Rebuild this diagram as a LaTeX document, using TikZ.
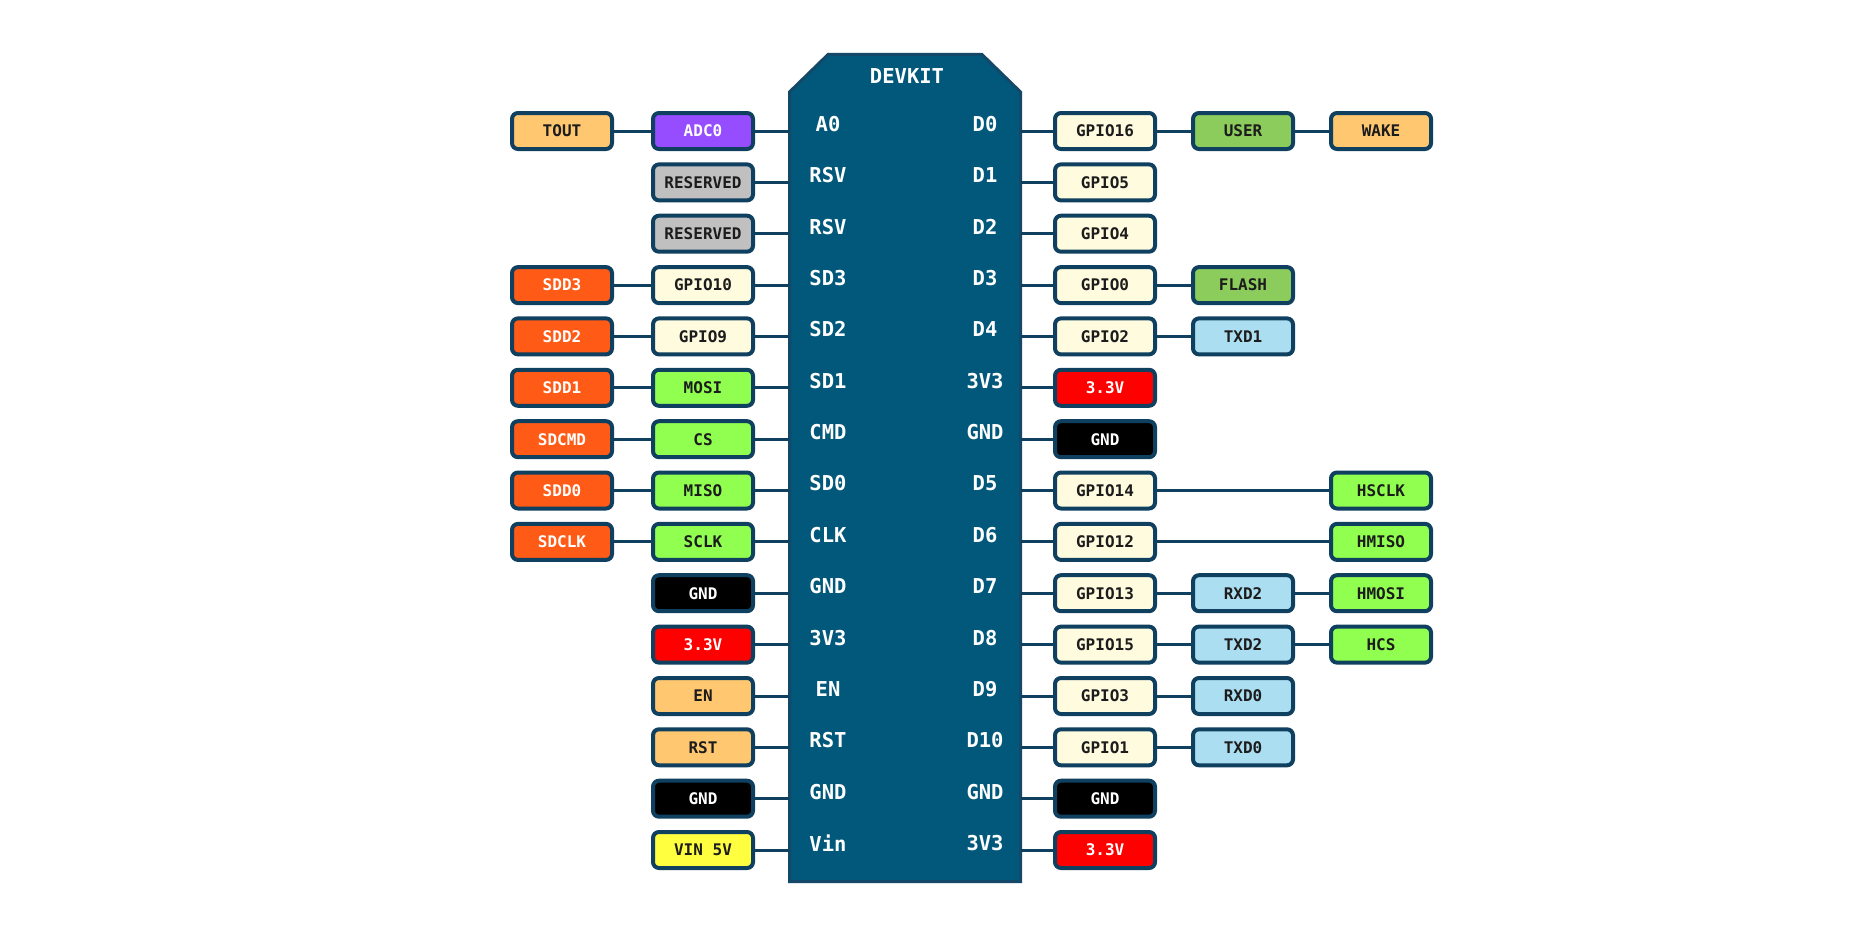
\documentclass[tikz,border=0pt]{standalone}
\usepackage{fontspec}
\setmonofont{DejaVu Sans Mono}
\definecolor{edge}{RGB}{16,64,96}
\definecolor{boardfill}{RGB}{1,88,122}
\definecolor{boardline}{RGB}{20,72,104}
\definecolor{ink}{RGB}{28,28,28}
\definecolor{cGPIO}{RGB}{255,251,222}
\definecolor{cOrange}{RGB}{255,200,112}
\definecolor{cPurple}{RGB}{150,76,255}
\definecolor{cGray}{RGB}{192,192,192}
\definecolor{cSDD}{RGB}{255,90,22}
\definecolor{cGreen}{RGB}{144,255,80}
\definecolor{cGreenB}{RGB}{140,204,92}
\definecolor{cBlue}{RGB}{172,222,242}
\definecolor{cRed}{RGB}{255,0,0}
\definecolor{cYellow}{RGB}{255,255,64}
\tikzset{
  bx/.style={draw=edge, line width=4pt, rounded corners=6pt, minimum width=100pt,
    minimum height=36pt, inner sep=0pt, text=ink,
    font=\ttfamily\bfseries\fontsize{16}{16}\selectfont},
  gpio/.style={bx, fill=cGPIO},
  orng/.style={bx, fill=cOrange},
  purp/.style={bx, fill=cPurple, text=white},
  gray/.style={bx, fill=cGray},
  sdd/.style={bx, fill=cSDD, text=white},
  grn/.style={bx, fill=cGreen},
  grnb/.style={bx, fill=cGreenB},
  blu/.style={bx, fill=cBlue},
  pwr/.style={bx, fill=cRed, text=white},
  gnd/.style={bx, fill=black, text=white},
  yel/.style={bx, fill=cYellow},
  wire/.style={draw=edge, line width=3pt},
  pinlbl/.style={text=white, inner sep=0pt,
    font=\ttfamily\bfseries\fontsize{20.5}{20.5}\selectfont},
}
\begin{document}
\begin{tikzpicture}[x=1pt,y=-1pt]
\useasboundingbox[fill=white] (0,0) rectangle (1870,942);
% board
\node[minimum width=231pt, minimum height=827pt, inner sep=0pt] (board) at (905,468) {};
\draw[fill=boardfill, draw=boardline, line width=3pt]
  (789.5,881.5) -- (789.5,92) -- (828,54.5) -- (982,54.5) -- (1020.5,92)
  -- (1020.5,881.5) -- cycle;
\node[pinlbl] (devkit) at (907,76) {DEVKIT};
% pin labels
\foreach \i/\y/\a/\b in {0/131/A0/D0, 1/182.4/RSV/D1, 2/233.7/RSV/D2, 3/285.1/SD3/D3,
  4/336.4/SD2/D4, 5/387.8/SD1/3V3, 6/439.2/CMD/GND, 7/490.5/SD0/D5, 8/541.9/CLK/D6,
  9/593.2/GND/D7, 10/644.6/3V3/D8, 11/696/EN/D9, 12/747.3/RST/D10, 13/798.7/GND/GND,
  14/850/Vin/3V3}{
  \node[pinlbl] (pl\i) at (828,\y-7) {\a};
  \node[pinlbl] (pr\i) at (985,\y-7) {\b};
}
% left boxes
\node[orng] (tout) at (562,131) {TOUT};
\node[purp] (adc) at (703,131) {ADC0};
\node[gray] (rsv1) at (703,182.4) {RESERVED};
\node[gray] (rsv2) at (703,233.7) {RESERVED};
\node[sdd] (sdd3) at (562,285.1) {SDD3};
\node[gpio] (g10) at (703,285.1) {GPIO10};
\node[sdd] (sdd2) at (562,336.4) {SDD2};
\node[gpio] (g9) at (703,336.4) {GPIO9};
\node[sdd] (sdd1) at (562,387.8) {SDD1};
\node[grn] (mosi) at (703,387.8) {MOSI};
\node[sdd] (sdcmd) at (562,439.2) {SDCMD};
\node[grn] (cs) at (703,439.2) {CS};
\node[sdd] (sdd0) at (562,490.5) {SDD0};
\node[grn] (miso) at (703,490.5) {MISO};
\node[sdd] (sdclk) at (562,541.9) {SDCLK};
\node[grn] (sclk) at (703,541.9) {SCLK};
\node[gnd] (lgnd1) at (703,593.2) {GND};
\node[pwr] (l33) at (703,644.6) {3.3V};
\node[orng] (en) at (703,696) {EN};
\node[orng] (rst) at (703,747.3) {RST};
\node[gnd] (lgnd2) at (703,798.7) {GND};
\node[yel] (vin) at (703,850) {VIN 5V};
% right boxes
\node[gpio] (g16) at (1105,131) {GPIO16};
\node[grnb] (user) at (1243,131) {USER};
\node[orng] (wake) at (1381,131) {WAKE};
\node[gpio] (g5) at (1105,182.4) {GPIO5};
\node[gpio] (g4) at (1105,233.7) {GPIO4};
\node[gpio] (g0) at (1105,285.1) {GPIO0};
\node[grnb] (flash) at (1243,285.1) {FLASH};
\node[gpio] (g2) at (1105,336.4) {GPIO2};
\node[blu] (txd1) at (1243,336.4) {TXD1};
\node[pwr] (r33a) at (1105,387.8) {3.3V};
\node[gnd] (rgnd1) at (1105,439.2) {GND};
\node[gpio] (g14) at (1105,490.5) {GPIO14};
\node[grn] (hsclk) at (1381,490.5) {HSCLK};
\node[gpio] (g12) at (1105,541.9) {GPIO12};
\node[grn] (hmiso) at (1381,541.9) {HMISO};
\node[gpio] (g13) at (1105,593.2) {GPIO13};
\node[blu] (rxd2) at (1243,593.2) {RXD2};
\node[grn] (hmosi) at (1381,593.2) {HMOSI};
\node[gpio] (g15) at (1105,644.6) {GPIO15};
\node[blu] (txd2) at (1243,644.6) {TXD2};
\node[grn] (hcs) at (1381,644.6) {HCS};
\node[gpio] (g3) at (1105,696) {GPIO3};
\node[blu] (rxd0) at (1243,696) {RXD0};
\node[gpio] (g1) at (1105,747.3) {GPIO1};
\node[blu] (txd0) at (1243,747.3) {TXD0};
\node[gnd] (rgnd2) at (1105,798.7) {GND};
\node[pwr] (r33b) at (1105,850) {3.3V};
% left connectors to board
\foreach \n in {adc,rsv1,rsv2,g10,g9,mosi,cs,miso,sclk,lgnd1,l33,en,rst,lgnd2,vin}{
  \draw[wire] (\n.east) -- (\n.east -| board.west);
}
% right connectors from board
\foreach \n in {g16,g5,g4,g0,g2,r33a,rgnd1,g14,g12,g13,g15,g3,g1,rgnd2,r33b}{
  \draw[wire] (\n.west -| board.east) -- (\n.west);
}
% outer connectors
\foreach \a/\b in {tout/adc, sdd3/g10, sdd2/g9, sdd1/mosi, sdcmd/cs, sdd0/miso, sdclk/sclk,
  g16/user, user/wake, g0/flash, g2/txd1, g14/hsclk, g12/hmiso, g13/rxd2, rxd2/hmosi,
  g15/txd2, txd2/hcs, g3/rxd0, g1/txd0}{
  \draw[wire] (\a.east) -- (\b.west);
}
\end{tikzpicture}
\end{document}
